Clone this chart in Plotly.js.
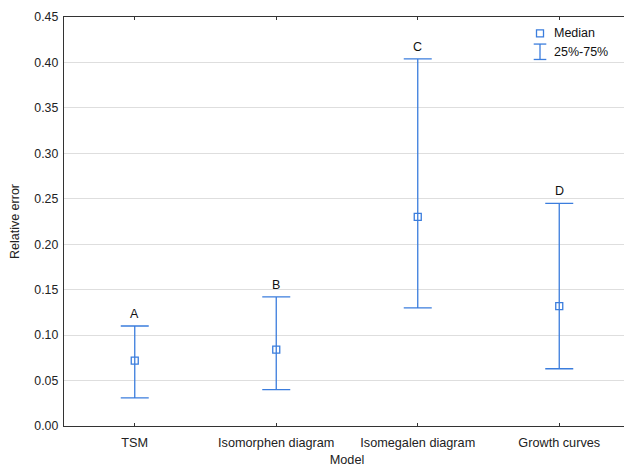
<!DOCTYPE html>
<html>
<head>
<meta charset="utf-8">
<script src="https://cdn.plot.ly/plotly-3.0.1.min.js"></script>
<style>
html, body { margin: 0; padding: 0; overflow: hidden; background: #fff; }
#chart { width: 630px; height: 467px; }
</style>
</head>
<body>
<div id="chart"></div>
<script>
const categories = ["TSM", "Isomorphen diagram", "Isomegalen diagram", "Growth curves"];
const medians = [0.072, 0.084, 0.230, 0.132];
const q25 = [0.031, 0.040, 0.130, 0.063];
const q75 = [0.110, 0.142, 0.404, 0.245];
const groupLetters = ["A", "B", "C", "D"];
const yTicks = [0, 0.05, 0.10, 0.15, 0.20, 0.25, 0.30, 0.35, 0.40, 0.45];

const blue = "#3b7ddd";
const font = "Liberation Sans, Arial, sans-serif";

const trace = {
  type: "scatter",
  mode: "markers",
  x: categories,
  y: medians,
  marker: { symbol: "square-open", size: 7, color: blue, line: { width: 1.3, color: blue } },
  error_y: {
    type: "data",
    symmetric: false,
    array: q75.map((v, i) => v - medians[i]),
    arrayminus: medians.map((v, i) => v - q25[i]),
    color: blue,
    thickness: 1.3,
    width: 14
  },
  showlegend: false,
  hoverinfo: "x+y"
};

const annotations = categories.map((c, i) => ({
  x: c, y: q75[i], xref: "x", yref: "y",
  text: groupLetters[i], showarrow: false,
  yanchor: "bottom", yshift: 3,
  font: { family: font, size: 12.5, color: "#111" }
}));

// Legend (drawn manually)
const legX = 0.841, legY1 = 0.960, legY2 = 0.915;
annotations.push({ x: 0.862, y: legY1, xref: "paper", yref: "paper", xanchor: "left", yanchor: "middle",
  text: "Median", showarrow: false, font: { family: font, size: 12.5, color: "#111" } });
annotations.push({ x: 0.862, y: legY2, xref: "paper", yref: "paper", xanchor: "left", yanchor: "middle",
  text: "25%-75%", showarrow: false, font: { family: font, size: 12.5, color: "#111" } });

const shapes = [
  { type: "rect", xref: "paper", yref: "paper", xsizemode: "pixel", ysizemode: "pixel",
    xanchor: legX, yanchor: legY1, x0: -3.5, x1: 3.5, y0: -3.5, y1: 3.5,
    line: { color: blue, width: 1.3 }, fillcolor: "rgba(0,0,0,0)" },
  { type: "line", xref: "paper", yref: "paper", xsizemode: "pixel", ysizemode: "pixel",
    xanchor: legX, yanchor: legY2, x0: 0, x1: 0, y0: -7.7, y1: 7.7, line: { color: blue, width: 1.3 } },
  { type: "line", xref: "paper", yref: "paper", xsizemode: "pixel", ysizemode: "pixel",
    xanchor: legX, yanchor: legY2, x0: -6.3, x1: 6.3, y0: 7.7, y1: 7.7, line: { color: blue, width: 1.3 } },
  { type: "line", xref: "paper", yref: "paper", xsizemode: "pixel", ysizemode: "pixel",
    xanchor: legX, yanchor: legY2, x0: -6.3, x1: 6.3, y0: -7.7, y1: -7.7, line: { color: blue, width: 1.3 } }
];

const layout = {
  width: 630, height: 467,
  margin: { l: 64, r: 0, t: 17, b: 41 },
  paper_bgcolor: "#fff", plot_bgcolor: "#fff",
  font: { family: font, size: 12, color: "#222" },
  xaxis: {
    type: "category",
    range: [-0.5, 3.5],
    showgrid: false, zeroline: false,
    showline: true, linecolor: "#333", linewidth: 1.3,
    mirror: "ticks", ticks: "inside", ticklen: 3, tickcolor: "#333",
    ticklabelstandoff: 4,
    tickfont: { family: font, size: 12.7, color: "#222" },
    title: { text: "Model", font: { family: font, size: 12.7, color: "#222" }, standoff: 9 }
  },
  yaxis: {
    range: [0, 0.45],
    tickvals: yTicks, tickformat: ".2f",
    showgrid: true, gridcolor: "#dedede", gridwidth: 1,
    zeroline: false,
    showline: true, linecolor: "#333", linewidth: 1.3,
    ticks: "", ticklabelstandoff: 2,
    tickfont: { family: font, size: 12.3, color: "#222" },
    title: { text: "Relative error", font: { family: font, size: 12.5, color: "#222" }, standoff: 12 }
  },
  annotations: annotations,
  shapes: shapes,
  showlegend: false
};

Plotly.newPlot("chart", [trace], layout, { displayModeBar: false, staticPlot: true });
</script>
</body>
</html>
